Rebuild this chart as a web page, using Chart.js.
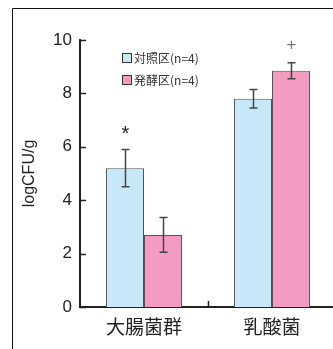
<!DOCTYPE html>
<html>
<head>
<meta charset="utf-8">
<script src="https://cdn.jsdelivr.net/npm/chart.js@4/dist/chart.umd.min.js"></script>
<style>
  html, body { margin: 0; padding: 0; background: #fff; overflow: hidden; }
  #wrap { position: absolute; left: 0; top: 0; width: 340px; height: 349px; }
</style>
</head>
<body>
<div id="wrap"><canvas id="c"></canvas></div>
<script>
// Bacterial counts (log CFU/g), mean ± SE, n = 4 per group
const categories = ['大腸菌群', '乳酸菌'];
const seriesNames = ['対照区(n=4)', '発酵区(n=4)'];
const controlMeans = [5.2, 7.8];
const controlErrors = [0.7, 0.35];
const fermentMeans = [2.7, 8.85];
const fermentErrors = [0.65, 0.3];
const controlMarks = ['*', ''];
const fermentMarks = ['', '+'];
const yTicks = [0, 2, 4, 6, 8, 10];

const BLUE = '#c6e8f8';
const PINK = '#f29cc2';
const INK = '#222';

// frame, inward ticks, error bars, significance marks, legend
const extras = {
  id: 'extras',
  beforeDraw(chart) {
    const ctx = chart.ctx;
    ctx.save();
    ctx.strokeStyle = '#111';
    ctx.lineWidth = 1;
    ctx.beginPath();
    ctx.moveTo(12.5, chart.height);
    ctx.lineTo(12.5, 8.5);
    ctx.lineTo(chart.width, 8.5);
    ctx.stroke();
    ctx.restore();
  },
  afterDatasetsDraw(chart) {
    const ctx = chart.ctx;
    const ys = chart.scales.y;
    const xs = chart.scales.x;
    const area = chart.chartArea;
    ctx.save();
    // inward ticks on the value axis
    ctx.strokeStyle = INK;
    ctx.lineWidth = 1.5;
    yTicks.forEach(v => {
      const py = Math.round(ys.getPixelForValue(v)) + 0.5;
      ctx.beginPath();
      ctx.moveTo(area.left, py);
      ctx.lineTo(area.left + 6, py);
      ctx.stroke();
    });
    // tick between the two categories
    const midX = Math.round((xs.getPixelForValue(0) + xs.getPixelForValue(1)) / 2) + 0.5;
    ctx.beginPath();
    ctx.moveTo(midX, area.bottom);
    ctx.lineTo(midX, area.bottom - 6);
    ctx.stroke();

    const errs = [controlErrors, fermentErrors];
    const means = [controlMeans, fermentMeans];
    const marks = [controlMarks, fermentMarks];
    chart.data.datasets.forEach((ds, di) => {
      const meta = chart.getDatasetMeta(di);
      meta.data.forEach((bar, i) => {
        const x = Math.round(bar.x) + 0.5;
        const hi = ys.getPixelForValue(means[di][i] + errs[di][i]);
        const lo = ys.getPixelForValue(means[di][i] - errs[di][i]);
        ctx.strokeStyle = '#444';
        ctx.lineWidth = 1.5;
        ctx.beginPath();
        ctx.moveTo(x, hi); ctx.lineTo(x, lo);
        ctx.moveTo(x - 4, hi); ctx.lineTo(x + 4, hi);
        ctx.moveTo(x - 4, lo); ctx.lineTo(x + 4, lo);
        ctx.stroke();
        const m = marks[di][i];
        if (m) {
          ctx.textAlign = 'center';
          ctx.textBaseline = 'middle';
          if (m === '*') {
            ctx.fillStyle = INK;
            ctx.font = '20px "Liberation Sans", Arial, sans-serif';
            ctx.fillText(m, x, hi - 15);
          } else {
            ctx.fillStyle = '#777';
            ctx.font = '17px "Liberation Sans", Arial, sans-serif';
            ctx.fillText(m, x, hi - 17);
          }
        }
      });
    });

    // legend
    const fills = [BLUE, PINK];
    ctx.font = '12px "Noto Sans CJK JP", sans-serif';
    ctx.textAlign = 'left';
    ctx.textBaseline = 'middle';
    seriesNames.forEach((name, k) => {
      const cy = 58 + k * 22;
      ctx.fillStyle = fills[k];
      ctx.fillRect(123, cy - 4, 8, 8);
      ctx.strokeStyle = '#333';
      ctx.lineWidth = 1;
      ctx.strokeRect(122.5, cy - 4.5, 9, 9);
      ctx.fillStyle = '#333';
      ctx.fillText(name, 134, cy + 0.5);
    });
    ctx.restore();
  }
};

new Chart(document.getElementById('c'), {
  type: 'bar',
  data: {
    labels: categories,
    datasets: [
      { label: seriesNames[0], data: controlMeans, backgroundColor: BLUE,
        borderColor: '#555', borderWidth: 1 },
      { label: seriesNames[1], data: fermentMeans, backgroundColor: PINK,
        borderColor: '#555', borderWidth: 1 }
    ]
  },
  options: {
    responsive: true,
    maintainAspectRatio: false,
    animation: false,
    events: [],
    layout: { padding: { left: 0, right: 4, top: 40, bottom: 0 } },
    datasets: { bar: { barPercentage: 1, categoryPercentage: 0.594 } },
    plugins: { legend: { display: false }, tooltip: { enabled: false } },
    scales: {
      x: {
        grid: { display: false, drawTicks: false },
        border: { display: true, color: INK, width: 2 },
        ticks: {
          color: INK, padding: 8,
          font: { family: '"Noto Sans CJK JP", sans-serif', size: 19 }
        },
        afterFit(scale) { scale.height = 42; }
      },
      y: {
        min: 0, max: 10,
        afterBuildTicks(scale) { scale.ticks = yTicks.map(v => ({ value: v })); },
        grid: { display: false, drawTicks: false },
        border: { display: true, color: INK, width: 2 },
        ticks: {
          color: INK, padding: 8,
          font: { family: '"Liberation Sans", Arial, sans-serif', size: 17 }
        },
        title: {
          display: true, text: 'logCFU/g', color: INK,
          font: { family: '"Liberation Sans", Arial, sans-serif', size: 16 },
          padding: { top: 20, bottom: 0 }
        },
        afterFit(scale) { scale.width = 80; }
      }
    }
  },
  plugins: [extras]
});
</script>
</body>
</html>
